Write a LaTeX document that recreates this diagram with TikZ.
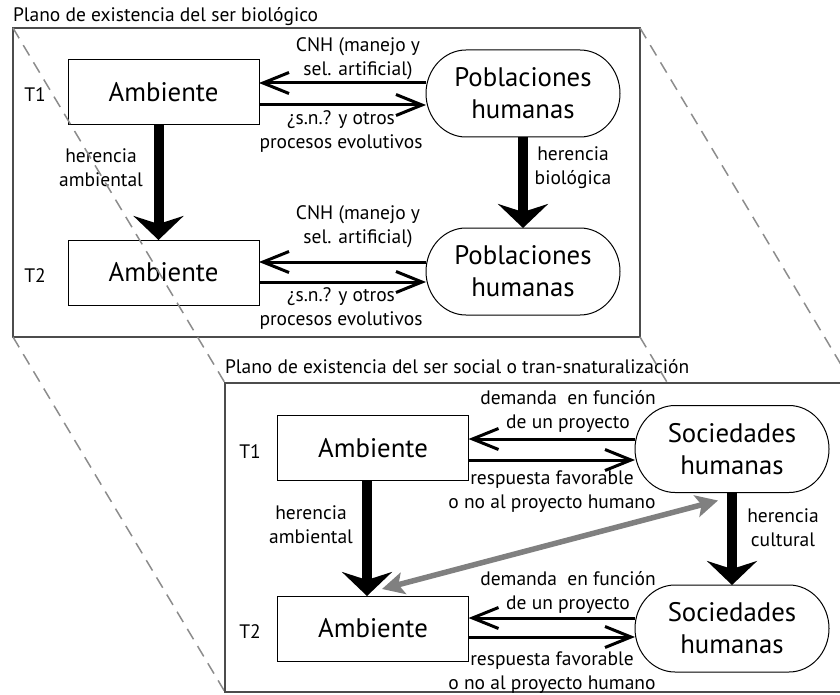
\documentclass[tikz,border=0pt]{standalone}
\usepackage{fontspec}
\setmainfont{PT Sans}
\usetikzlibrary{arrows.meta}
\pgfdeclarelayer{front}
\pgfsetlayers{main,front}
\newcommand{\mycapsule}[1]{%
  \draw[line width=1pt] (#1.west) .. controls +(0,-24) and +(-22,0) .. ([xshift=40pt]#1.north west)
    -- ([xshift=-40pt]#1.north east) .. controls +(22,0) and +(0,-24) .. (#1.east)
    .. controls +(0,24) and +(22,0) .. ([xshift=-40pt]#1.south east)
    -- ([xshift=40pt]#1.south west) .. controls +(-22,0) and +(0,24) .. (#1.west) -- cycle;}
\begin{document}
\begin{tikzpicture}[x=1pt,y=-1pt,
  every node/.style={inner sep=0pt, outer sep=0pt},
  lbl/.style={font=\fontsize{19.5}{24}\selectfont, align=center},
  tlbl/.style={font=\fontsize{19.5}{24}\selectfont},
  big/.style={font=\fontsize{26.8}{32}\selectfont, align=center},
  envbox/.style={draw=black, line width=1pt, fill=white, minimum width=191pt, minimum height=65pt, big},
  popbox/.style={minimum width=194pt, minimum height=87pt, big},
  plane/.style={draw=black!70, line width=1.3pt, minimum width=627pt, minimum height=309pt},
  thinarr/.style={line width=3pt, -{Straight Barb[length=26pt,width=21pt]}},
  heavy/.style={line width=10pt, -{Stealth[length=24pt,width=50pt,inset=8pt]}},
  grayarr/.style={draw=black!50, line width=5.5pt, {Stealth[length=22pt,width=22pt,inset=5pt]}-{Stealth[length=22pt,width=22pt,inset=5pt]}},
  proj/.style={draw=black!45, line width=1.5pt, dash pattern=on 12pt off 8pt}
]
\useasboundingbox (0,0) rectangle (840,695);
\clip (0,0) rectangle (840,695);

% ---------- top plane ----------
\node[plane] (P1) at (326.5,182.5) {};
\node[tlbl, anchor=base west] (title1) at (13,22) {Plano de existencia del ser biológico};

\node[envbox] (amb1) at (163.5,92.5) {Ambiente};
\node[envbox] (amb2) at (163.5,272.5) {Ambiente};
\node[popbox] (pob1) at (523,93.5) {Poblaciones\\humanas};
\node[popbox] (pob2) at (523,271.5) {Poblaciones\\humanas};
\mycapsule{pob1}
\mycapsule{pob2}

\node[tlbl] (t1a) at (35,95) {T1};
\node[tlbl] (t2a) at (35,276) {T2};

\draw[thinarr] (pob1.west |- 0,83) -- (amb1.east |- 0,83);
\draw[thinarr] (amb1.east |- 0,105) -- (pob1.west |- 0,105);
\draw[thinarr] (pob2.west |- 0,262) -- (amb2.east |- 0,262);
\draw[thinarr] (amb2.east |- 0,282) -- (pob2.west |- 0,282);

\node[lbl] (l1) at (358,59) {CNH (manejo y\\sel. artificial)};
\node[lbl] (l2) at (341,132) {¿s.n.? y otros\\procesos evolutivos};
\node[lbl] (l3) at (358,227) {CNH (manejo y\\sel. artificial)};
\node[lbl] (l4) at (341,309) {¿s.n.? y otros\\procesos evolutivos};

\draw[heavy] ([xshift=-5pt]amb1.south) -- ([xshift=-5pt]amb2.north);
\draw[heavy] (pob1.south) -- (pob2.north);
\node[lbl] (ha1) at (101,168) {herencia\\ambiental};
\node[lbl] (hb1) at (573,168) {herencia\\biológica};

% ---------- bottom plane ----------
\node[tlbl, anchor=base west] (title2) at (225,373) {Plano de existencia del ser social o tran-snaturalización};

\begin{pgfonlayer}{front}
\node[plane, fill=white] (P2) at (538.5,537.5) {};
\node[envbox] (samb1) at (373,448) {Ambiente};
\node[envbox] (samb2) at (373,628.5) {Ambiente};
\node[popbox] (soc1) at (732,449) {Sociedades\\humanas};
\node[popbox] (soc2) at (732,628.5) {Sociedades\\humanas};
\mycapsule{soc1}
\mycapsule{soc2}

\node[tlbl] (t1b) at (250,452) {T1};
\node[tlbl] (t2b) at (250,632) {T2};

\draw[thinarr] (soc1.west |- 0,439) -- (samb1.east |- 0,439);
\draw[thinarr] (samb1.east |- 0,460) -- (soc1.west |- 0,460);
\draw[thinarr] (soc2.west |- 0,618) -- (samb2.east |- 0,618);
\draw[thinarr] (samb2.east |- 0,637) -- (soc2.west |- 0,637);

\node[lbl] (m1) at (568,411) {demanda~ en función\\de un proyecto};
\node[lbl] (m2) at (552,492) {respuesta favorable\\o no al proyecto humano};
\node[lbl] (m3) at (568,592) {demanda~ en función\\de un proyecto};
\node[lbl] (m4) at (552,673) {respuesta favorable\\o no al proyecto humano};

\draw[heavy] ([xshift=-6pt]samb1.south) -- ([xshift=-6pt]samb2.north);
\draw[heavy] (soc1.south) -- (soc2.north);
\node[lbl] (ha2) at (311,525) {herencia\\ambiental};
\node[lbl] (hc2) at (783,528) {herencia\\cultural};

\draw[grayarr] ([xshift=-14pt,yshift=-8pt]soc1.south) -- ([xshift=9pt,yshift=7pt]samb2.north);
\end{pgfonlayer}

% ---------- projection lines ----------
\draw[proj] (P1.north west) -- (P2.north west);
\draw[proj] (P1.south west) -- (P2.south west);
\draw[proj] (P1.north east) -- (P2.north east);
\draw[proj] (P1.south east) -- (P2.south east);
\end{tikzpicture}
\end{document}
